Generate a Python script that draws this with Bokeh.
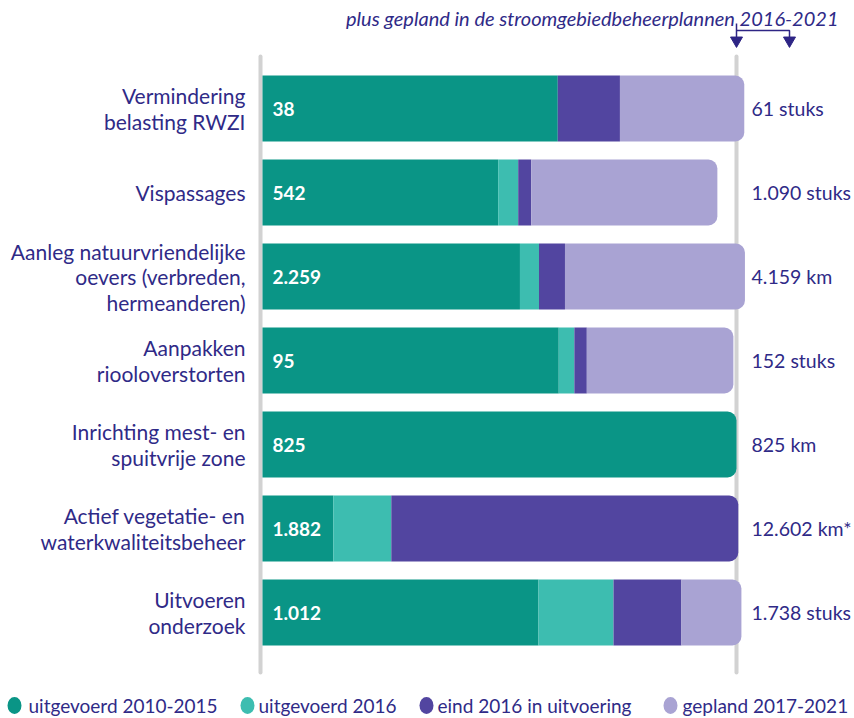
from bokeh.plotting import figure
from bokeh.models import ColumnDataSource, Range1d
from bokeh.core.properties import value
from bokeh.embed import file_html
from bokeh.resources import INLINE

# ---------------- data ----------------
categories = [
    "Vermindering\nbelasting RWZI",
    "Vispassages",
    "Aanleg natuurvriendelijke\noevers (verbreden,\nhermeanderen)",
    "Aanpakken\nriooloverstorten",
    "Inrichting mest- en\nspuitvrije zone",
    "Actief vegetatie- en\nwaterkwaliteitsbeheer",
    "Uitvoeren\nonderzoek",
]
done_2010_2015 = [38, 542, 2259, 95, 825, 1882, 1012]
done_2016 = [0, 46, 167, 5, 0, 1542, 275]
in_progress_2016 = [8, 30, 228, 4, 0, 9226, 249]
planned_2017_2021 = [16, 428, 1579, 47, 0, 0, 220]
totals = [61, 1090, 4159, 152, 825, 12602, 1738]
total_labels = ["61 stuks", "1.090 stuks", "4.159 km", "152 stuks",
                "825 km", "12.602 km*", "1.738 stuks"]
series_names = ["uitgevoerd 2010-2015", "uitgevoerd 2016",
                "eind 2016 in uitvoering", "gepland 2017-2021"]
top_note = "plus gepland in de stroomgebiedbeheerplannen 2016-2021"

# ---------------- styling ----------------
colors = ["#0a9586", "#3dbdb0", "#5245a0", "#a9a3d3"]
TXT = "#2f2a87"
FONT = value("Lato")
W, H = 854, 718
X0, X100 = 262.0, 736.0           # pixel positions of 0 % and 100 %
PXU = (X100 - X0) / 100.0
ROW0, ROWSTEP = 108.0, 84.0


def dx(px):
    return (px - X0) / PXU


def dy(py):
    return (py - ROW0) / ROWSTEP


p = figure(width=W, height=H, output_backend="svg", toolbar_location=None,
           x_range=Range1d(dx(0), dx(W)), y_range=Range1d(dy(H), dy(0)),
           min_border=0)
p.axis.visible = False
p.grid.visible = False
p.outline_line_color = None
p.background_fill_color = "white"

# gray reference lines
p.segment(x0=[dx(260), dx(736)], y0=[dy(56), dy(56)], x1=[dx(260), dx(736)],
          y1=[dy(672), dy(672)], line_color="#d2d2d2", line_width=4,
          line_cap="round")

# stacked bars (percent of planned total)
series = [done_2010_2015, done_2016, in_progress_2016, planned_2017_2021]
n = len(categories)
rows = list(range(n))
left = [0.0] * n
last_idx = []
for r in rows:
    li = 0
    for s in range(len(series)):
        if series[s][r] > 0:
            li = s
    last_idx.append(li)

for s, vals in enumerate(series):
    norm = dict(y=[], l=[], r=[])
    rnd = dict(y=[], l=[], r=[])
    for r in rows:
        w = vals[r] / totals[r] * 100.0
        if w <= 0:
            continue
        tgt = rnd if last_idx[r] == s else norm
        tgt["y"].append(r)
        tgt["l"].append(left[r])
        tgt["r"].append(left[r] + w)
        left[r] += w
    if norm["y"]:
        p.hbar(y="y", left="l", right="r", height=66 / ROWSTEP,
               source=ColumnDataSource(norm), fill_color=colors[s],
               line_color=None)
    if rnd["y"]:
        p.hbar(y="y", left="l", right="r", height=66 / ROWSTEP,
               source=ColumnDataSource(rnd), fill_color=colors[s],
               line_color=None, border_radius=(0, 9, 9, 0))

# value labels inside bars
val_labels = [f"{v:,}".replace(",", ".") for v in done_2010_2015]
p.text(x=[dx(272)] * n, y=rows, text=val_labels, text_color="white",
       text_font=FONT, text_font_style="bold", text_font_size="19px",
       text_baseline="middle", text_align="left")

# category labels
p.text(x=[dx(245)] * n, y=rows, text=categories, text_color=TXT,
       text_font=FONT, text_font_size="21px", text_baseline="middle",
       text_align="right", text_line_height=1.02)

# totals
p.text(x=[dx(751)] * n, y=rows, text=total_labels, text_color=TXT,
       text_font=FONT, text_font_size="19.5px", text_baseline="middle",
       text_align="left")

# top note + arrows
p.text(x=[dx(838)], y=[dy(17)], text=[top_note], text_color=TXT,
       text_font=FONT, text_font_style="italic", text_font_size="20px",
       text_baseline="alphabetic", text_align="right")
p.multi_line(xs=[[dx(736), dx(736)], [dx(736), dx(789), dx(789)]],
             ys=[[dy(23), dy(37)], [dy(30), dy(30), dy(37)]],
             line_color="#2e2585", line_width=1.5)
p.scatter(x=[dx(736), dx(789)], y=[dy(40), dy(40)], marker="inverted_triangle",
          size=12, fill_color="#2e2585", line_color="#2e2585")

# legend
leg_circ = [14, 247, 426, 670]
leg_text = [28, 258, 437, 682]
ly = dy(705)
p.ellipse(x=[dx(v) for v in leg_circ], y=[ly] * 4, width=14 / PXU,
          height=17 / ROWSTEP, fill_color=colors, line_color=None)
p.text(x=[dx(v) for v in leg_text], y=[ly] * 4, text=series_names,
       text_color=TXT, text_font=FONT, text_font_size="19px",
       text_baseline="middle", text_align="left")

open("out.html", "w").write(file_html(p, INLINE))
